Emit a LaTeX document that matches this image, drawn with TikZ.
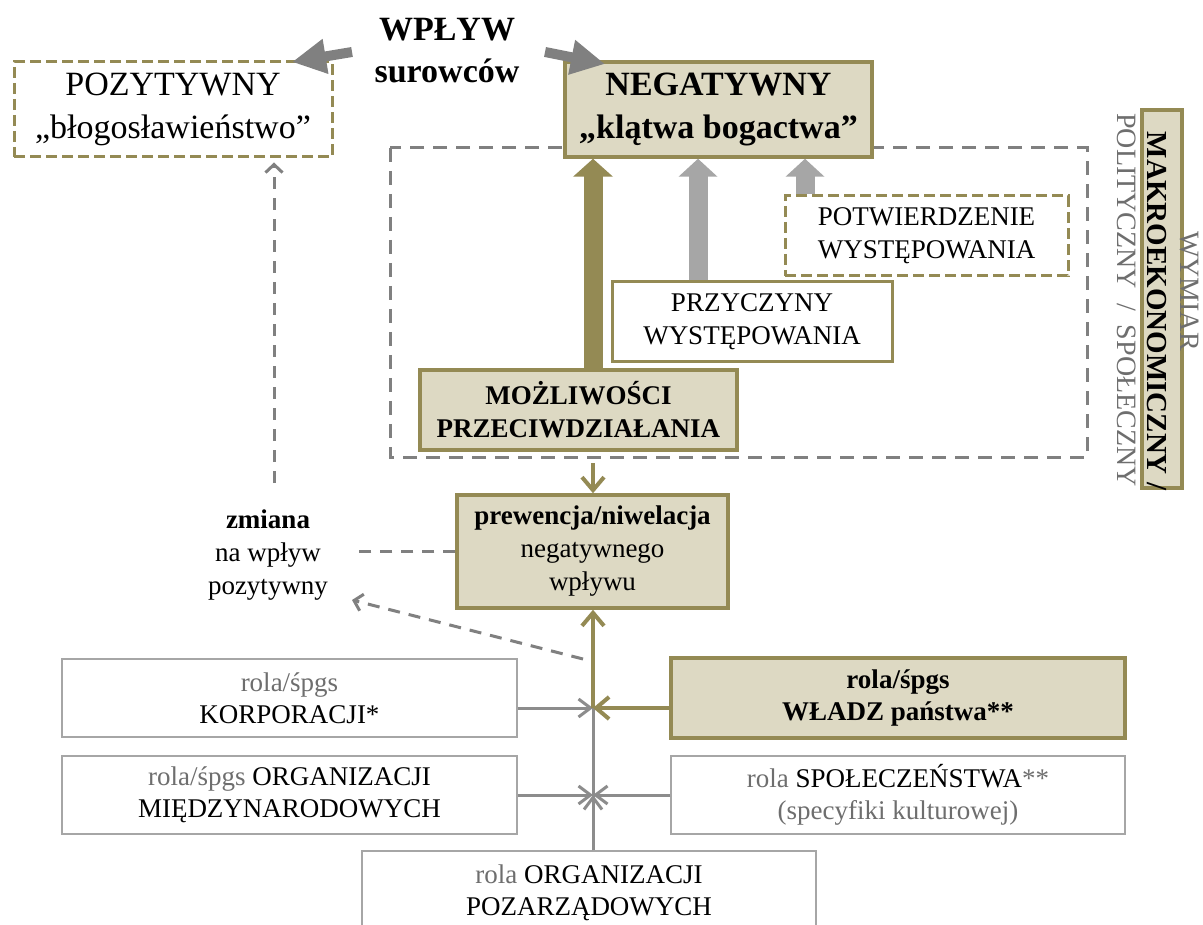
\documentclass[tikz,border=0pt]{standalone}
\usepackage{fontspec}
\setmainfont{Liberation Serif}
\usetikzlibrary{arrows.meta}
\definecolor{tanfill}{HTML}{DDD9C3}
\definecolor{tanline}{HTML}{948A54}
\definecolor{dgray}{HTML}{808080}
\definecolor{agray}{HTML}{8C8C8C}
\definecolor{lgray}{HTML}{A6A6A6}
\definecolor{tgray}{HTML}{6E6E6E}
\begin{document}
\begin{tikzpicture}[x=1pt,y=-1pt,
  every node/.style={align=center, inner sep=0pt},
  fbig/.style={font=\fontsize{34}{43}\selectfont},
  fmid/.style={font=\fontsize{27}{33}\selectfont},
  fsm/.style={font=\fontsize{27}{32}\selectfont},
  tanbox/.style={draw=tanline, fill=tanfill, line width=3.5pt},
  tandash/.style={draw=tanline, fill=white, line width=3pt, dash pattern=on 11pt off 5pt},
  tanwhite/.style={draw=tanline, fill=white, line width=3pt},
  graybox/.style={draw=lgray, fill=white, line width=1.5pt},
  frame/.style={draw=dgray, line width=3pt, dash pattern=on 14pt off 9pt},
  bigtan/.style={draw=tanline, line width=19pt, -{Triangle[length=18pt,width=39pt]}},
  biggray/.style={draw=lgray, line width=19pt, -{Triangle[length=18pt,width=38pt]}},
  bendarr/.style={draw=dgray, line width=10pt, -{Triangle[length=34pt,width=33pt]}},
  tanln/.style={draw=tanline, line width=4pt, -{Straight Barb[length=13pt,width=22pt]}},
  grayln/.style={draw=agray, line width=3pt, -{Straight Barb[length=12pt,width=18pt]}},
  dashln/.style={draw=dgray, line width=3pt, dash pattern=on 12pt off 9pt},
  dasharr/.style={dashln, -{Straight Barb[length=8pt,width=17pt]}}
]
\clip (0,0) rectangle (1203,925);
\fill[white] (0,0) rectangle (1203,925);

% region of the macro / political / social dimension
\draw[frame] (390,148) rectangle (1087,457);

% top row
\node[tandash, fbig, minimum width=318, minimum height=95] (poz) at (173,109.5)
  {POZYTYWNY\\„błogosławieństwo”};
\node[tanbox, font=\fontsize{34}{43}\selectfont\bfseries, minimum width=307, minimum height=95] (neg) at (718.5,109.5)
  {NEGATYWNY\\„klątwa bogactwa”};
\node[font=\fontsize{34}{42}\selectfont\bfseries] (wp) at (447,51) {WPŁYW\\surowców};

% inside the dashed frame
\node[tandash, fmid, minimum width=283, minimum height=80] (pot) at (926.5,236)
  {POTWIERDZENIE\\WYSTĘPOWANIA};
\node[tanwhite, fmid, minimum width=280, minimum height=80] (prz) at (752,322)
  {PRZYCZYNY\\WYSTĘPOWANIA};
\node[tanbox, font=\fontsize{27}{33}\selectfont\bfseries, minimum width=317, minimum height=80] (moz) at (578.5,410)
  {MOŻLIWOŚCI\\PRZECIWDZIAŁANIA};

% middle
\node[tanbox, fmid, minimum width=271, minimum height=113] (prew) at (592.5,551.5)
  {\textbf{prewencja/niwelacja}\\negatywnego\\wpływu};
\node[fmid] (zm) at (268,555) {\textbf{zmiana}\\na wpływ\\pozytywny};

% actors
\node[graybox, fsm, minimum width=455, minimum height=78] (korp) at (289.5,698)
  {{\color{tgray}rola/śpgs}\\KORPORACJI*};
\node[tanbox, font=\fontsize{27}{32}\selectfont\bfseries, minimum width=454, minimum height=80] (wladz) at (898,698)
  {rola/śpgs\\WŁADZ państwa**};
\node[graybox, fsm, minimum width=455, minimum height=78] (orgm) at (289.5,795)
  {{\color{tgray}rola/śpgs} ORGANIZACJI\\MIĘDZYNARODOWYCH};
\node[graybox, fsm, minimum width=454, minimum height=78] (spol) at (898,795)
  {{\color{tgray}rola} SPOŁECZEŃSTWA{\color{tgray}**}\\{\color{tgray}(specyfiki kulturowej)}};
\node[graybox, fsm, minimum width=454, minimum height=84] (ngo) at (589,893)
  {{\color{tgray}rola} ORGANIZACJI\\POZARZĄDOWYCH};

% vertical label on the right
\node[tanbox, rotate=-90, minimum width=378, minimum height=40] (mbox) at (1162,299) {};
\node[rotate=-90, font=\fontsize{29}{33}\selectfont\bfseries] (mak) at (1157,311) {MAKROEKONOMICZNY /};
\node[rotate=-90, text=tgray, font=\fontsize{28}{33}\selectfont] (wym) at (1190,291) {WYMIAR};
\node[rotate=-90, text=tgray, font=\fontsize{28}{33}\selectfont] (pol) at (1127,300) {POLITYCZNY \ / \ SPOŁECZNY};

% junction points
\coordinate (j1) at (593,708);
\coordinate (j2) at (593,795);
\coordinate (fb) at (593,463);
\coordinate (zmE) at (352,551);
\coordinate (dsA) at (583,659);
\coordinate (dsB) at (352,600);
\coordinate (upA) at (274,483);
\coordinate (lt) at (352,52);
\coordinate (lh) at (292,62);
\coordinate (rt) at (545,52);
\coordinate (rh) at (605,64);

% influence arrows
\draw[bendarr] (lt) -- (lh);
\draw[bendarr] (rt) -- (rh);

% arrows into the negative box
\draw[bigtan] (moz.north -| 593,0) -- (neg.south -| 593,0);
\draw[biggray] (prz.north -| 698,0) -- (neg.south -| 698,0);
\draw[biggray] (pot.north -| 805,0) -- (neg.south -| 805,0);

% links around the prevention box
\draw[tanln] (fb) -- (prew.north -| fb);
\draw[dashln] (prew.west |- zmE) -- (zmE);
\draw[dasharr] (dsA) -- (dsB);
\draw[dasharr, shorten >=4pt] (upA) -- (poz.south -| upA);

% actor arrows
\draw[draw=agray, line width=3pt] (ngo.north -| j1) -- (j1);
\draw[grayln] (korp.east |- j1) -- (j1);
\draw[grayln] (orgm.east |- j2) -- (j2);
\draw[grayln] (spol.west |- j2) -- (j2);
\draw[grayln] (ngo.north -| j2) -- (j2);
\draw[tanln] (wladz.west |- j1) -- (j1);
\draw[tanln] (j1) -- (prew.south -| j1);
\end{tikzpicture}
\end{document}
